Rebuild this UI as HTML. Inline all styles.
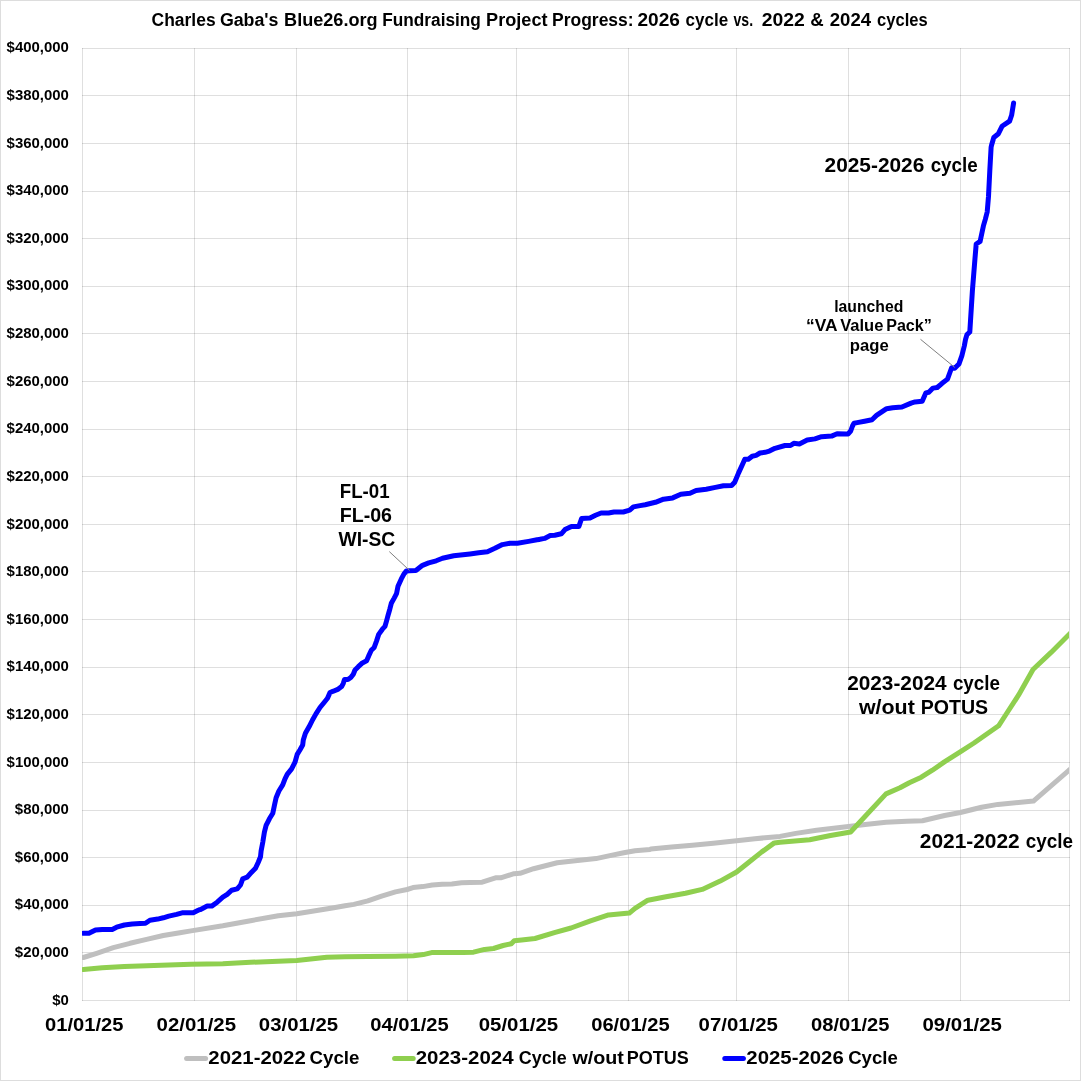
<!DOCTYPE html>
<html><head><meta charset="utf-8"><title>Blue26 Fundraising Progress</title>
<style>
html,body{margin:0;padding:0;background:#fff;}
svg{display:block;will-change:transform;}
text{font-family:"Liberation Sans",Arial,sans-serif;font-weight:bold;fill:#000;}
.g{stroke:#000;stroke-opacity:0.125;stroke-width:1;shape-rendering:crispEdges;}
.yl{font-size:13.3px;}
.xl{font-size:18px;}
.t{font-size:16.8px;}
.a{font-size:19.4px;}
.s{font-size:15.5px;}
.lg{font-size:17.4px;}
</style></head>
<body>
<svg width="1081" height="1081" viewBox="0 0 1081 1081">
<defs><clipPath id="pc"><rect x="82" y="40" width="987" height="961"/></clipPath></defs>
<rect x="0" y="0" width="1081" height="1081" fill="#fff"/>
<rect x="0.5" y="0.5" width="1080" height="1080" fill="none" stroke="#dddddd" stroke-width="1" shape-rendering="crispEdges"/>
<line x1="82" y1="1000.5" x2="1070" y2="1000.5" class="g"/>
<line x1="82" y1="952.5" x2="1070" y2="952.5" class="g"/>
<line x1="82" y1="905.5" x2="1070" y2="905.5" class="g"/>
<line x1="82" y1="857.5" x2="1070" y2="857.5" class="g"/>
<line x1="82" y1="810.5" x2="1070" y2="810.5" class="g"/>
<line x1="82" y1="762.5" x2="1070" y2="762.5" class="g"/>
<line x1="82" y1="714.5" x2="1070" y2="714.5" class="g"/>
<line x1="82" y1="667.5" x2="1070" y2="667.5" class="g"/>
<line x1="82" y1="619.5" x2="1070" y2="619.5" class="g"/>
<line x1="82" y1="571.5" x2="1070" y2="571.5" class="g"/>
<line x1="82" y1="524.5" x2="1070" y2="524.5" class="g"/>
<line x1="82" y1="476.5" x2="1070" y2="476.5" class="g"/>
<line x1="82" y1="429.5" x2="1070" y2="429.5" class="g"/>
<line x1="82" y1="381.5" x2="1070" y2="381.5" class="g"/>
<line x1="82" y1="333.5" x2="1070" y2="333.5" class="g"/>
<line x1="82" y1="286.5" x2="1070" y2="286.5" class="g"/>
<line x1="82" y1="238.5" x2="1070" y2="238.5" class="g"/>
<line x1="82" y1="191.5" x2="1070" y2="191.5" class="g"/>
<line x1="82" y1="143.5" x2="1070" y2="143.5" class="g"/>
<line x1="82" y1="95.5" x2="1070" y2="95.5" class="g"/>
<line x1="82" y1="48.5" x2="1070" y2="48.5" class="g"/>
<line x1="82.5" y1="48" x2="82.5" y2="1001" class="g"/>
<line x1="194.5" y1="48" x2="194.5" y2="1001" class="g"/>
<line x1="296.5" y1="48" x2="296.5" y2="1001" class="g"/>
<line x1="407.5" y1="48" x2="407.5" y2="1001" class="g"/>
<line x1="516.5" y1="48" x2="516.5" y2="1001" class="g"/>
<line x1="628.5" y1="48" x2="628.5" y2="1001" class="g"/>
<line x1="736.5" y1="48" x2="736.5" y2="1001" class="g"/>
<line x1="848.5" y1="48" x2="848.5" y2="1001" class="g"/>
<line x1="960.5" y1="48" x2="960.5" y2="1001" class="g"/>
<line x1="1069.5" y1="48" x2="1069.5" y2="1001" class="g"/>
<polyline clip-path="url(#pc)" points="83.3,957.5 96.7,953.3 113.3,947.7 130.0,943.3 146.6,939.4 163.3,935.5 179.9,932.7 191.0,930.9 222.8,925.8 250.5,920.7 278.3,915.8 296.7,913.7 319.9,910.0 333.8,907.8 345.0,905.8 353.9,904.4 367.8,900.8 381.6,896.1 395.5,891.9 407.1,889.5 413.0,887.6 422.7,886.6 432.4,885.0 442.1,884.3 451.8,883.9 461.5,882.8 470.0,882.6 482.2,882.2 495.5,877.8 500.7,877.8 514.0,873.7 520.0,873.3 533.6,868.7 557.2,862.8 575.2,860.8 596.0,858.6 609.9,855.6 623.8,852.8 635.0,850.7 650.0,849.4 650.8,849.1 671.6,847.1 692.4,845.3 713.3,843.3 736.6,840.8 754.9,838.7 780.0,836.4 795.8,833.4 816.6,830.2 848.5,826.5 865.2,824.4 886.0,822.3 906.8,821.3 922.4,820.7 944.6,815.5 960.4,812.5 981.6,807.3 997.9,804.4 1033.4,801.1 1068.9,770.3 1071.0,768.6" fill="none" stroke="#bfbfbf" stroke-width="5" stroke-linejoin="round" stroke-linecap="round"/>
<polyline clip-path="url(#pc)" points="83.3,969.4 102.2,967.7 124.4,966.4 146.6,965.7 168.8,964.9 191.0,964.2 222.8,963.7 250.5,962.3 278.3,961.3 296.7,960.6 312.9,958.8 326.8,957.2 345.0,956.7 367.8,956.5 395.5,956.3 413.5,955.8 423.3,954.6 431.6,952.6 455.0,952.6 463.1,952.6 473.5,952.2 484.6,949.4 493.5,948.5 503.1,945.5 511.3,943.7 514.2,940.7 521.6,940.0 535.0,938.5 554.4,932.6 571.0,928.0 590.5,920.8 608.5,914.9 629.3,913.1 635.0,908.3 647.5,900.4 648.0,900.2 664.7,897.0 685.5,893.3 702.2,889.4 720.2,881.1 736.6,872.0 747.9,863.0 761.8,851.9 774.3,842.9 780.0,842.2 809.7,839.7 830.5,835.5 850.6,832.0 886.0,793.9 900.0,787.8 909.3,782.7 921.3,777.2 932.4,770.2 944.4,761.9 960.6,751.7 974.0,743.0 998.6,725.8 1005.3,715.5 1018.5,695.2 1033.0,669.5 1051.1,652.4 1071.0,632.6" fill="none" stroke="#8fcf4f" stroke-width="5" stroke-linejoin="round" stroke-linecap="round"/>
<polyline clip-path="url(#pc)" points="83.3,933.3 88.9,933.3 95.5,930.0 102.2,929.4 112.2,929.4 116.6,927.2 124.4,925.0 132.2,923.9 140.0,923.5 145.5,923.3 149.9,920.2 157.7,919.1 163.3,917.8 168.8,916.1 176.6,914.4 182.1,912.8 193.2,912.8 197.7,910.5 200.0,909.4 200.6,909.4 207.2,906.1 211.7,906.1 217.2,902.2 222.8,897.2 227.2,894.4 231.6,890.2 237.2,888.9 240.5,885.0 242.7,878.9 247.2,877.2 251.6,872.2 255.5,868.3 258.3,862.2 260.5,856.7 261.1,851.0 262.8,842.1 264.4,832.1 266.1,825.4 269.4,818.8 272.8,813.2 274.4,805.5 276.1,797.7 278.9,791.0 282.7,784.9 285.0,778.8 287.2,774.4 291.6,768.9 295.0,762.2 297.2,754.4 299.9,750.0 302.7,745.0 303.3,739.9 305.4,733.3 309.2,726.6 312.5,720.0 315.8,714.1 320.0,707.5 324.1,702.5 327.5,698.3 330.0,692.5 333.3,691.2 338.3,689.1 341.6,686.6 343.3,683.3 344.5,679.6 347.9,679.6 350.8,677.5 353.3,674.2 355.0,670.0 358.3,666.7 362.4,662.9 366.6,660.8 368.7,655.9 371.3,650.3 374.2,647.4 376.5,641.1 378.7,634.4 382.4,629.2 385.0,626.3 386.5,621.1 387.9,615.9 389.8,609.2 391.3,603.3 394.2,598.1 396.5,593.7 398.0,586.3 401.3,578.9 404.0,573.8 406.4,571.0 409.6,570.7 415.2,570.6 416.2,570.2 422.5,565.3 428.7,562.9 436.2,560.8 442.5,558.3 453.7,555.8 470.0,553.9 478.7,552.7 487.4,551.7 494.9,548.3 502.4,544.6 509.9,543.3 517.4,543.3 528.6,541.4 537.0,539.8 539.4,539.5 540.0,539.3 544.6,538.4 550.2,535.6 554.8,535.2 561.3,533.8 565.0,529.6 571.5,526.4 578.9,526.4 581.6,518.5 590.0,518.0 595.5,515.3 601.1,513.0 608.5,513.0 614.0,512.0 623.3,512.0 629.7,510.2 633.4,506.9 640.0,505.6 645.2,504.7 655.4,502.3 663.5,499.2 672.7,497.9 680.8,494.3 690.0,493.3 696.1,490.5 706.2,489.2 715.4,487.4 723.5,485.7 725.0,485.7 731.6,485.5 734.7,482.2 738.6,472.9 742.9,463.5 744.8,459.3 748.3,459.3 752.2,456.2 756.1,455.4 760.0,453.0 765.0,452.3 769.4,451.1 775.0,448.3 785.0,445.5 790.5,445.5 793.8,443.3 799.4,443.9 807.2,440.0 814.9,438.9 821.6,436.7 831.6,436.1 837.1,433.7 846.0,433.9 848.0,434.0 850.7,431.0 852.5,426.0 854.0,423.2 857.2,422.6 864.6,421.2 872.0,419.7 876.5,415.4 886.6,408.7 892.7,407.7 901.9,407.0 911.1,403.1 915.0,401.9 922.2,401.3 925.8,392.9 928.8,392.3 933.0,388.1 937.2,387.5 942.1,383.3 947.5,379.1 949.9,372.5 951.7,367.7 954.7,368.3 958.9,364.1 961.9,355.6 964.3,346.0 965.5,339.5 967.0,334.6 969.8,332.0 972.4,290.6 975.0,258.3 976.2,244.0 980.1,241.4 983.4,225.9 985.3,219.4 987.2,212.0 988.5,196.5 989.8,170.6 991.1,147.3 991.6,145.0 993.8,137.5 998.4,133.7 1002.0,126.3 1009.6,121.1 1011.6,115.3 1013.6,103.0" fill="none" stroke="#0000ff" stroke-width="5" stroke-linejoin="round" stroke-linecap="round"/>
<line x1="389.3" y1="551.6" x2="409.6" y2="570.5" stroke="#808080" stroke-width="1"/>
<line x1="920.5" y1="339.3" x2="954.8" y2="367.5" stroke="#808080" stroke-width="1"/>
<line x1="186.6" y1="1058.4" x2="205.6" y2="1058.4" stroke="#bfbfbf" stroke-width="5" stroke-linecap="round"/>
<line x1="394.6" y1="1058.4" x2="413.2" y2="1058.4" stroke="#8fcf4f" stroke-width="5" stroke-linecap="round"/>
<line x1="724.8" y1="1058.4" x2="743.4" y2="1058.4" stroke="#0000ff" stroke-width="5" stroke-linecap="round"/>
<text id="t0" x="151.62" y="25.7" style="font-size:18px" textLength="63.99" lengthAdjust="spacingAndGlyphs">Charles</text>
<text id="t1" x="219.88" y="25.7" style="font-size:18px" textLength="58.62" lengthAdjust="spacingAndGlyphs">Gaba's</text>
<text id="t2" x="284.05" y="25.7" style="font-size:18px" textLength="93.61" lengthAdjust="spacingAndGlyphs">Blue26.org</text>
<text id="t3" x="382.28" y="25.7" style="font-size:18px" textLength="98.60" lengthAdjust="spacingAndGlyphs">Fundraising</text>
<text id="t4" x="486.11" y="25.7" style="font-size:18px" textLength="61.42" lengthAdjust="spacingAndGlyphs">Project</text>
<text id="t5" x="551.97" y="25.7" style="font-size:18px" textLength="81.70" lengthAdjust="spacingAndGlyphs">Progress:</text>
<text id="t6" x="637.43" y="25.7" style="font-size:18px" textLength="42.43" lengthAdjust="spacingAndGlyphs">2026</text>
<text id="t7" x="685.50" y="25.7" style="font-size:18px" textLength="42.62" lengthAdjust="spacingAndGlyphs">cycle</text>
<text id="t8" x="733.50" y="25.7" style="font-size:18px" textLength="19.56" lengthAdjust="spacingAndGlyphs">vs.</text>
<text id="t9" x="761.72" y="25.7" style="font-size:18px" textLength="43.10" lengthAdjust="spacingAndGlyphs">2022</text>
<text id="t10" x="810.19" y="25.7" style="font-size:18px" textLength="13.44" lengthAdjust="spacingAndGlyphs">&amp;</text>
<text id="t11" x="829.78" y="25.7" style="font-size:18px" textLength="41.27" lengthAdjust="spacingAndGlyphs">2024</text>
<text id="t12" x="877.08" y="25.7" style="font-size:18px" textLength="50.52" lengthAdjust="spacingAndGlyphs">cycles</text>
<text id="y0" x="52.24" y="1004.65" style="font-size:13.9px" textLength="16.61" lengthAdjust="spacingAndGlyphs">$0</text>
<text id="y1" x="14.87" y="957.03" style="font-size:13.9px" textLength="53.98" lengthAdjust="spacingAndGlyphs">$20,000</text>
<text id="y2" x="14.87" y="909.42" style="font-size:13.9px" textLength="53.98" lengthAdjust="spacingAndGlyphs">$40,000</text>
<text id="y3" x="14.87" y="861.8" style="font-size:13.9px" textLength="53.98" lengthAdjust="spacingAndGlyphs">$60,000</text>
<text id="y4" x="14.87" y="814.19" style="font-size:13.9px" textLength="53.98" lengthAdjust="spacingAndGlyphs">$80,000</text>
<text id="y5" x="6.58" y="766.57" style="font-size:13.9px" textLength="62.27" lengthAdjust="spacingAndGlyphs">$100,000</text>
<text id="y6" x="6.58" y="718.96" style="font-size:13.9px" textLength="62.27" lengthAdjust="spacingAndGlyphs">$120,000</text>
<text id="y7" x="6.58" y="671.34" style="font-size:13.9px" textLength="62.27" lengthAdjust="spacingAndGlyphs">$140,000</text>
<text id="y8" x="6.58" y="623.73" style="font-size:13.9px" textLength="62.27" lengthAdjust="spacingAndGlyphs">$160,000</text>
<text id="y9" x="6.58" y="576.11" style="font-size:13.9px" textLength="62.27" lengthAdjust="spacingAndGlyphs">$180,000</text>
<text id="y10" x="6.58" y="528.5" style="font-size:13.9px" textLength="62.27" lengthAdjust="spacingAndGlyphs">$200,000</text>
<text id="y11" x="6.58" y="480.88" style="font-size:13.9px" textLength="62.27" lengthAdjust="spacingAndGlyphs">$220,000</text>
<text id="y12" x="6.58" y="433.27" style="font-size:13.9px" textLength="62.27" lengthAdjust="spacingAndGlyphs">$240,000</text>
<text id="y13" x="6.58" y="385.65" style="font-size:13.9px" textLength="62.27" lengthAdjust="spacingAndGlyphs">$260,000</text>
<text id="y14" x="6.58" y="338.04" style="font-size:13.9px" textLength="62.27" lengthAdjust="spacingAndGlyphs">$280,000</text>
<text id="y15" x="6.58" y="290.42" style="font-size:13.9px" textLength="62.27" lengthAdjust="spacingAndGlyphs">$300,000</text>
<text id="y16" x="6.58" y="242.81" style="font-size:13.9px" textLength="62.27" lengthAdjust="spacingAndGlyphs">$320,000</text>
<text id="y17" x="6.58" y="195.19" style="font-size:13.9px" textLength="62.27" lengthAdjust="spacingAndGlyphs">$340,000</text>
<text id="y18" x="6.58" y="147.58" style="font-size:13.9px" textLength="62.27" lengthAdjust="spacingAndGlyphs">$360,000</text>
<text id="y19" x="6.58" y="99.96" style="font-size:13.9px" textLength="62.27" lengthAdjust="spacingAndGlyphs">$380,000</text>
<text id="y20" x="6.58" y="52.35" style="font-size:13.9px" textLength="62.27" lengthAdjust="spacingAndGlyphs">$400,000</text>
<text id="x0" x="45.11" y="1030.6" style="font-size:18.2px" textLength="78.42" lengthAdjust="spacingAndGlyphs">01/01/25</text>
<text id="x1" x="156.61" y="1030.6" style="font-size:18.2px" textLength="79.44" lengthAdjust="spacingAndGlyphs">02/01/25</text>
<text id="x2" x="258.86" y="1030.6" style="font-size:18.2px" textLength="79.32" lengthAdjust="spacingAndGlyphs">03/01/25</text>
<text id="x3" x="370.34" y="1030.6" style="font-size:18.2px" textLength="78.37" lengthAdjust="spacingAndGlyphs">04/01/25</text>
<text id="x4" x="478.69" y="1030.6" style="font-size:18.2px" textLength="79.44" lengthAdjust="spacingAndGlyphs">05/01/25</text>
<text id="x5" x="591.20" y="1030.6" style="font-size:18.2px" textLength="78.43" lengthAdjust="spacingAndGlyphs">06/01/25</text>
<text id="x6" x="698.64" y="1030.6" style="font-size:18.2px" textLength="79.33" lengthAdjust="spacingAndGlyphs">07/01/25</text>
<text id="x7" x="811.13" y="1030.6" style="font-size:18.2px" textLength="78.32" lengthAdjust="spacingAndGlyphs">08/01/25</text>
<text id="x8" x="922.51" y="1030.6" style="font-size:18.2px" textLength="79.44" lengthAdjust="spacingAndGlyphs">09/01/25</text>
<text id="lg1a" x="208.34" y="1063.9" style="font-size:18px" textLength="97.44" lengthAdjust="spacingAndGlyphs">2021-2022</text>
<text id="lg1b" x="309.56" y="1063.9" style="font-size:18px" textLength="49.93" lengthAdjust="spacingAndGlyphs">Cycle</text>
<text id="lg2a" x="415.69" y="1063.9" style="font-size:18px" textLength="97.85" lengthAdjust="spacingAndGlyphs">2023-2024</text>
<text id="lg2b" x="518.80" y="1063.9" style="font-size:18px" textLength="47.85" lengthAdjust="spacingAndGlyphs">Cycle</text>
<text id="lg2c" x="572.43" y="1063.9" style="font-size:18px" textLength="51.50" lengthAdjust="spacingAndGlyphs">w/out</text>
<text id="lg2d" x="626.80" y="1063.9" style="font-size:18px" textLength="62.02" lengthAdjust="spacingAndGlyphs">POTUS</text>
<text id="lg3a" x="746.34" y="1063.9" style="font-size:18px" textLength="97.44" lengthAdjust="spacingAndGlyphs">2025-2026</text>
<text id="lg3b" x="848.18" y="1063.9" style="font-size:18px" textLength="49.60" lengthAdjust="spacingAndGlyphs">Cycle</text>
<text id="a2526a" x="824.56" y="171.8" style="font-size:20.3px" textLength="99.77" lengthAdjust="spacingAndGlyphs">2025-2026</text>
<text id="a2526b" x="930.65" y="171.8" style="font-size:20.3px" textLength="47.04" lengthAdjust="spacingAndGlyphs">cycle</text>
<text id="fl01" x="339.80" y="497.8" style="font-size:20.3px" textLength="49.81" lengthAdjust="spacingAndGlyphs">FL-01</text>
<text id="fl06" x="339.72" y="521.8" style="font-size:20.3px" textLength="52.28" lengthAdjust="spacingAndGlyphs">FL-06</text>
<text id="wisc" x="338.46" y="545.9" style="font-size:20.3px" textLength="56.78" lengthAdjust="spacingAndGlyphs">WI-SC</text>
<text id="a2324a" x="847.18" y="690.4" style="font-size:20.3px" textLength="99.43" lengthAdjust="spacingAndGlyphs">2023-2024</text>
<text id="a2324b" x="952.89" y="690.4" style="font-size:20.3px" textLength="47.04" lengthAdjust="spacingAndGlyphs">cycle</text>
<text id="wouta" x="858.90" y="713.9" style="font-size:20.3px" textLength="55.91" lengthAdjust="spacingAndGlyphs">w/out</text>
<text id="woutb" x="920.64" y="713.9" style="font-size:20.3px" textLength="67.49" lengthAdjust="spacingAndGlyphs">POTUS</text>
<text id="a2122a" x="919.79" y="847.6" style="font-size:20.3px" textLength="99.93" lengthAdjust="spacingAndGlyphs">2021-2022</text>
<text id="a2122b" x="1025.67" y="847.6" style="font-size:20.3px" textLength="47.25" lengthAdjust="spacingAndGlyphs">cycle</text>
<text id="launched" x="834.22" y="311.6" style="font-size:16px" textLength="69.03" lengthAdjust="spacingAndGlyphs">launched</text>
<text id="vavpa" x="806.10" y="330.8" style="font-size:16px" textLength="31.52" lengthAdjust="spacingAndGlyphs">“VA</text>
<text id="vavpb" x="840.19" y="330.8" style="font-size:16px" textLength="43.14" lengthAdjust="spacingAndGlyphs">Value</text>
<text id="vavpc" x="886.18" y="330.8" style="font-size:16px" textLength="45.59" lengthAdjust="spacingAndGlyphs">Pack”</text>
<text id="page" x="849.81" y="351.0" style="font-size:16px" textLength="38.91" lengthAdjust="spacingAndGlyphs">page</text>
</svg>
</body></html>
